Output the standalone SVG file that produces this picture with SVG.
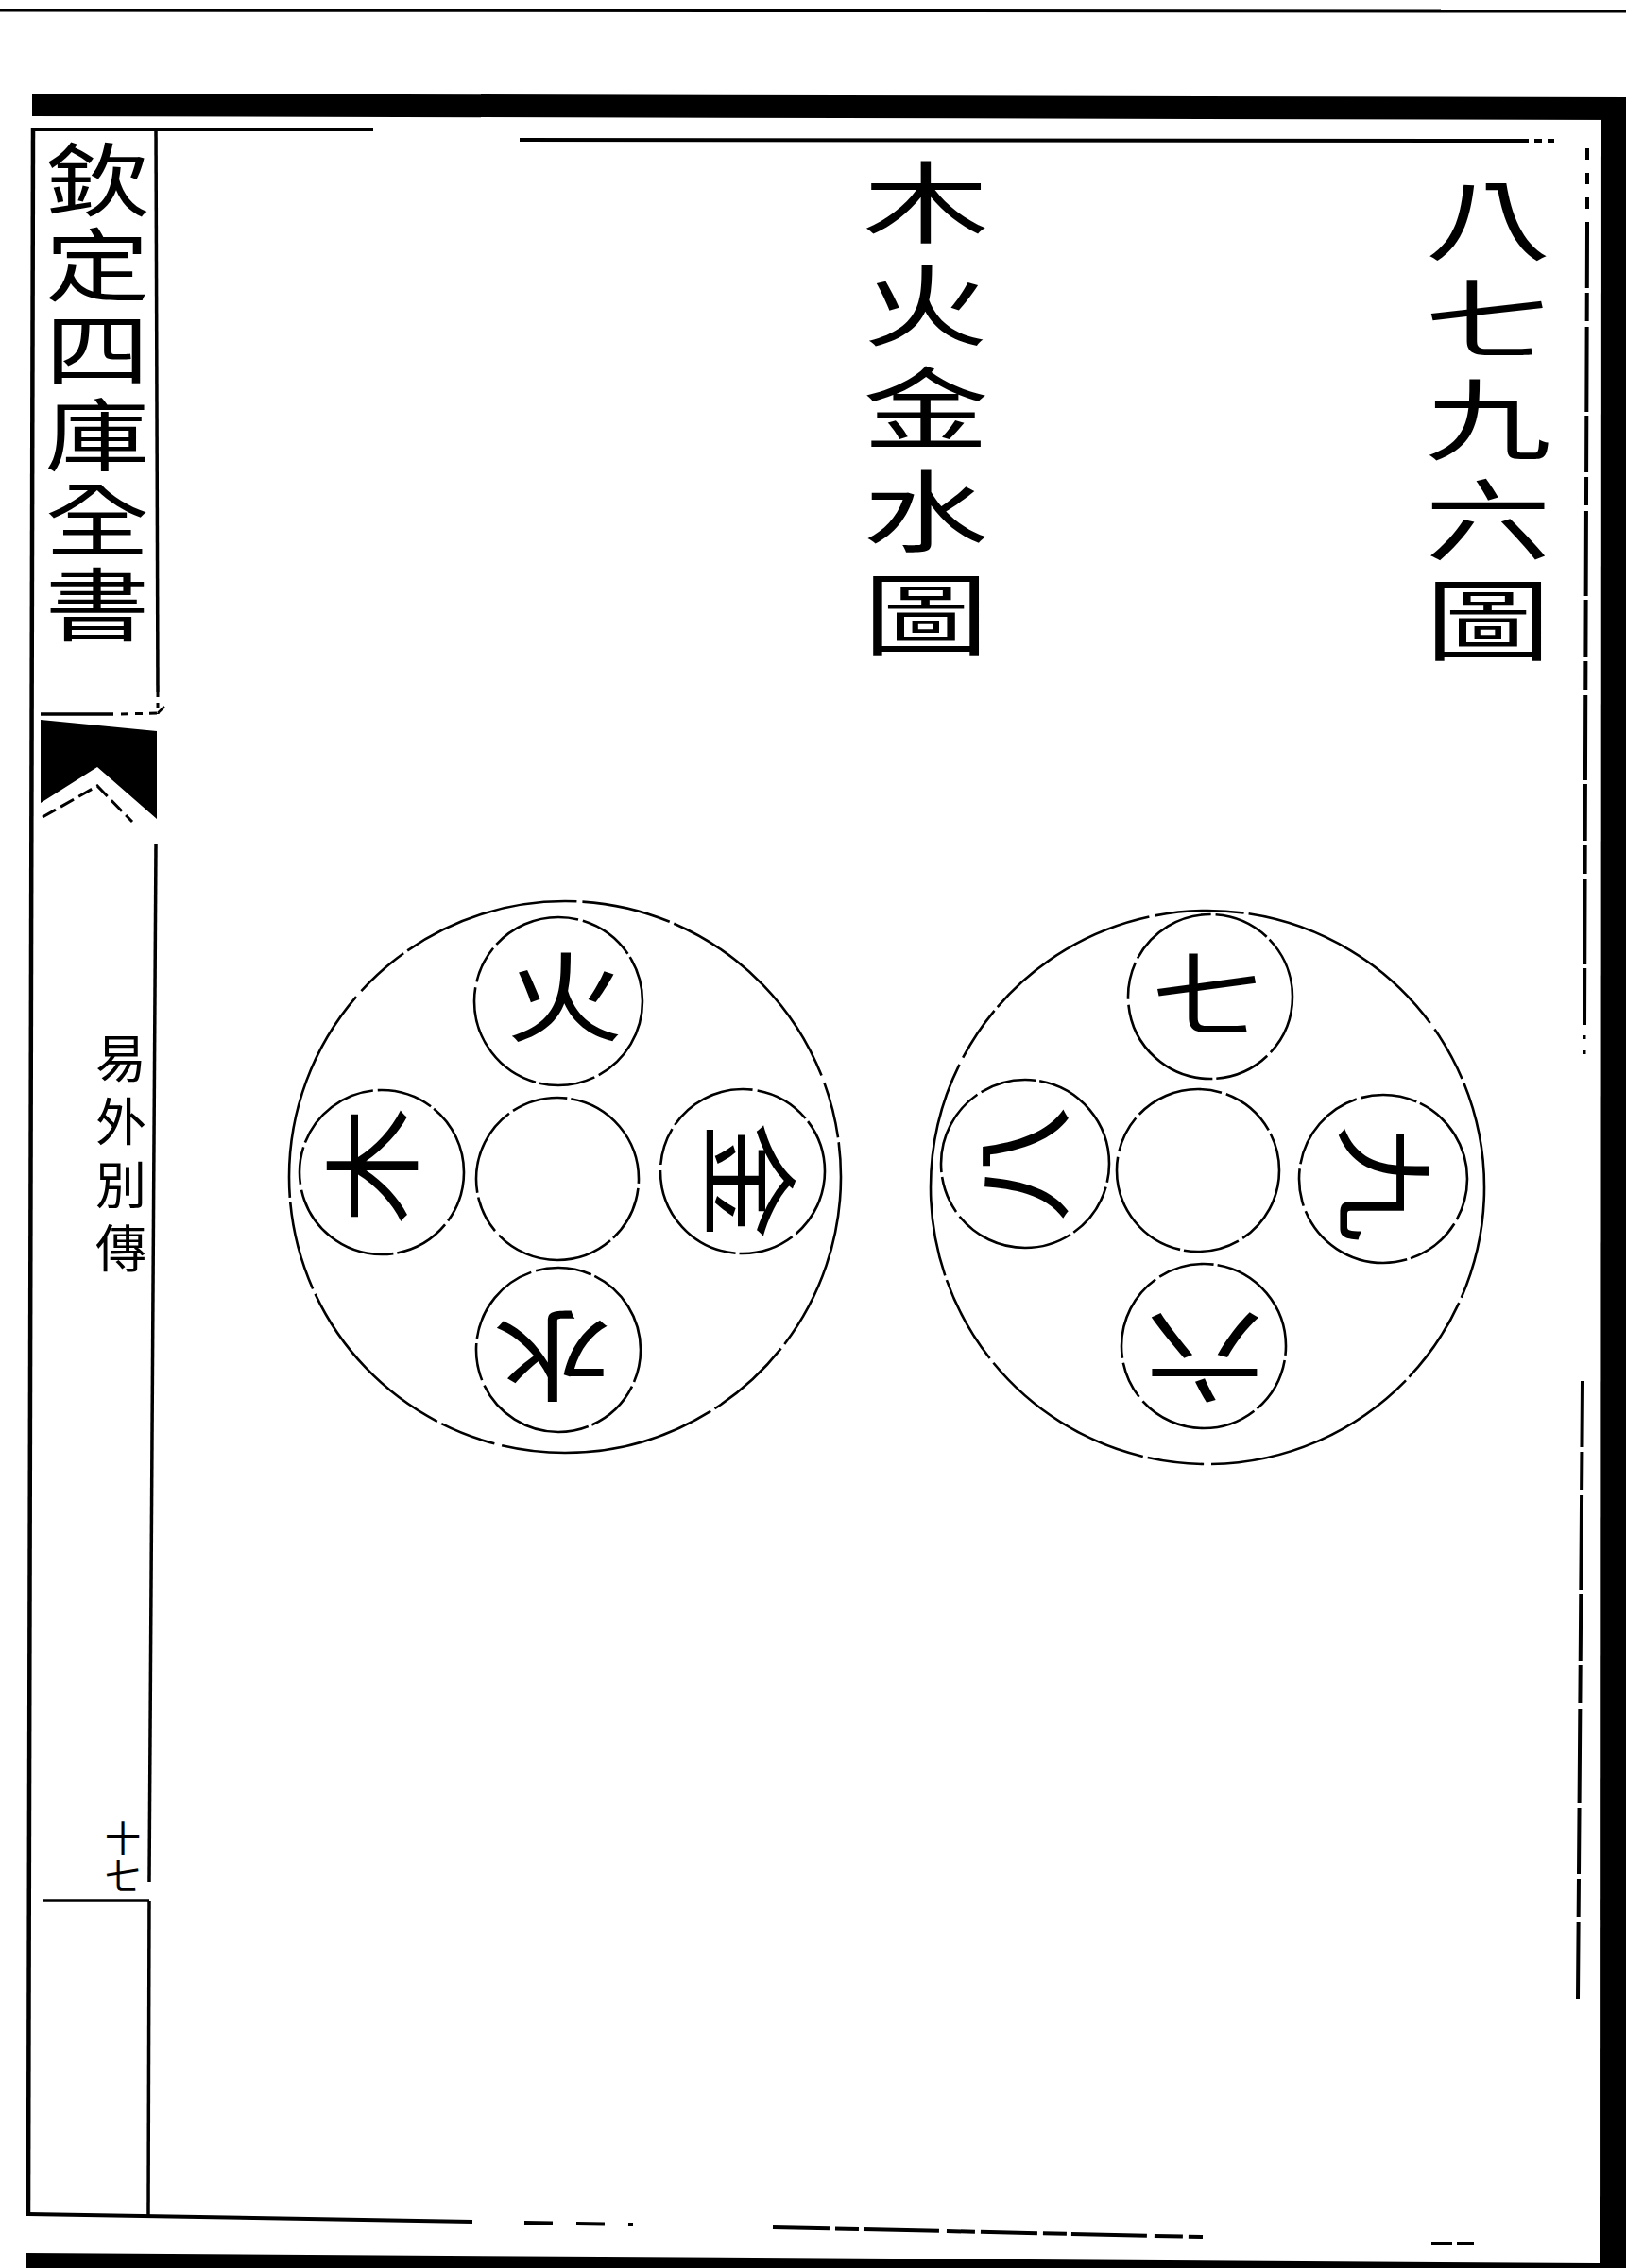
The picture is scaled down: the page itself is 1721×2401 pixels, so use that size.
<svg xmlns="http://www.w3.org/2000/svg" width="1721" height="2401" viewBox="0 0 1721 2401">
<style>
.ln{stroke:#000;fill:none;stroke-linecap:butt}
.blk{fill:#000;stroke:none}
.cbig{fill:none;stroke:#000;stroke-width:2.6;stroke-dasharray:190 6 95 5 230 8 60 5}
.csm{fill:none;stroke:#000;stroke-width:2.6;stroke-dasharray:95 5 60 4 130 6 40 5}
.t{font-family:"Noto Sans CJK TC","Noto Sans CJK SC",sans-serif;fill:#000;text-anchor:middle}
.v{font-family:"Noto Sans CJK TC","Noto Sans CJK SC",sans-serif;fill:#000;writing-mode:vertical-rl;text-anchor:start}
.ttl{font-size:94px}
.hd{font-size:84px}
.sm{font-size:54px}
.pg{font-size:38px}
.lbl{font-size:104px}
</style>
<rect width="1721" height="2401" fill="#fff"/>

<g id="page-frame">
  <line class="ln" x1="0" y1="11" x2="1721" y2="12" stroke-width="3"/>
  <polygon class="blk" points="34,99 1721,103 1721,127 34,123"/>
  <polygon class="blk" points="1695,103 1721,103 1721,2401 1694,2401"/>
  <polygon class="blk" points="27,2385 1690,2396 1721,2396 1721,2401 27,2401"/>
  <line class="ln" x1="35" y1="137" x2="395" y2="137" stroke-width="4"/>
  <line class="ln" x1="550" y1="148" x2="1618" y2="149" stroke-width="4"/>
  <line class="ln" x1="1624" y1="149" x2="1645" y2="149" stroke-width="4" stroke-dasharray="8 6"/>
  <line class="ln" x1="35" y1="135" x2="30" y2="2346" stroke-width="4.5"/>
  <line class="ln" x1="165" y1="135" x2="167" y2="733" stroke-width="3.5"/>
  <line class="ln" x1="167" y1="733" x2="167" y2="756" stroke-width="3" stroke-dasharray="5 6"/>
  <line class="ln" x1="165" y1="894" x2="158" y2="1992" stroke-width="3.5"/>
  <line class="ln" x1="45" y1="2012" x2="158" y2="2012" stroke-width="3.5"/>
  <line class="ln" x1="158" y1="2012" x2="157" y2="2345" stroke-width="3.5"/>
  <polyline class="ln" points="30,2344 500,2352" stroke-width="4"/>
  <line class="ln" x1="555" y1="2353" x2="670" y2="2355" stroke-width="4" stroke-dasharray="30 25"/>
  <line class="ln" x1="818" y1="2358" x2="1273" y2="2368" stroke-width="4" stroke-dasharray="60 6 25 5 80 8 30 6"/>
  <line class="ln" x1="1515" y1="2375" x2="1560" y2="2375" stroke-width="4" stroke-dasharray="22 5"/>
  <line class="ln" x1="1680" y1="157" x2="1680" y2="245" stroke-width="4" stroke-dasharray="12 14"/>
  <line class="ln" x1="1680" y1="245" x2="1677" y2="1089" stroke-width="4" stroke-dasharray="60 5 30 6 90 4"/>
  <line class="ln" x1="1677" y1="1096" x2="1677" y2="1122" stroke-width="3" stroke-dasharray="4 12"/>
  <line class="ln" x1="1675" y1="1462" x2="1670" y2="2116" stroke-width="4" stroke-dasharray="70 5 40 6 100 5"/>
</g>

<g id="fish-tail">
  <line class="ln" x1="43" y1="756" x2="120" y2="756" stroke-width="3.5"/>
  <line class="ln" x1="128" y1="756" x2="167" y2="755" stroke-width="3" stroke-dasharray="8 7"/>
  <line class="ln" x1="167" y1="755" x2="174" y2="748" stroke-width="2.5"/>
  <path class="blk" d="M43,762 L166,774 L166,867 L103,812 L43,850 Z"/>
  <polyline class="ln" points="45,865 103,832 140,870" stroke-width="3" stroke-dasharray="16 6"/>
</g>

<g id="book-title">
  <g transform="translate(103,0) scale(1.32,1)">
    <text class="v hd" x="0" y="148" letter-spacing="6">欽定四庫全書</text>
  </g>
</g>

<g id="book-subtitle">
  <text class="v sm" x="128" y="1093" letter-spacing="13">易外別傳</text>
</g>

<g id="page-number">
  <text class="v pg" x="130" y="1927" letter-spacing="2">十七</text>
</g>

<g id="title-bajiujiu">
  <g transform="translate(1575,0) scale(1.42,1)">
    <text class="v ttl" x="0" y="185" letter-spacing="12">八七九六圖</text>
  </g>
</g>

<g id="title-muhuo">
  <g transform="translate(980,0) scale(1.42,1)">
    <text class="v ttl" x="0" y="167" letter-spacing="15">木火金水圖</text>
  </g>
</g>

<g id="diagram-wuxing">
  <circle id="wuxing-outer" class="cbig" cx="598" cy="1246" r="292"/>
  <g id="node-huo">
    <circle class="csm" cx="591" cy="1060" r="89"/>
    <g transform="translate(598,1056) scale(1.2,1)"><text class="t lbl" x="0" y="39">火</text></g>
  </g>
  <g id="node-mu">
    <circle class="csm" cx="404" cy="1241" r="87" stroke-dashoffset="40"/>
    <g transform="translate(395,1234) rotate(-90) scale(1.2,1)"><text class="t lbl" x="0" y="39">木</text></g>
  </g>
  <g id="node-center-left">
    <circle class="csm" cx="590" cy="1248" r="86" stroke-dashoffset="90"/>
  </g>
  <g id="node-jin">
    <circle class="csm" cx="786" cy="1240" r="87" stroke-dashoffset="20"/>
    <g transform="translate(792,1250) rotate(90) scale(1.2,1)"><text class="t lbl" x="0" y="39">金</text></g>
  </g>
  <g id="node-shui">
    <circle class="csm" cx="591" cy="1429" r="87" stroke-dashoffset="60"/>
    <g transform="translate(585,1435) rotate(180) scale(1.2,1)"><text class="t lbl" x="0" y="39">水</text></g>
  </g>
</g>

<g id="diagram-numbers">
  <circle id="numbers-outer" class="cbig" cx="1278" cy="1257" r="293" stroke-dashoffset="70"/>
  <g id="node-qi">
    <circle class="csm" cx="1281" cy="1055" r="87" stroke-dashoffset="30"/>
    <g transform="translate(1278,1053) scale(1.2,1)"><text class="t lbl" x="0" y="37" style="font-size:98px">七</text></g>
  </g>
  <g id="node-ba">
    <circle class="csm" cx="1085" cy="1232" r="89" stroke-dashoffset="75"/>
    <g transform="translate(1083,1232) rotate(-90) scale(1.2,1)"><text class="t lbl" x="0" y="39">八</text></g>
  </g>
  <g id="node-center-right">
    <circle class="csm" cx="1268" cy="1239" r="86" stroke-dashoffset="10"/>
  </g>
  <g id="node-jiu">
    <circle class="csm" cx="1464" cy="1248" r="89" stroke-dashoffset="50"/>
    <g transform="translate(1464,1253) rotate(90) scale(1.2,1)"><text class="t lbl" x="0" y="39">九</text></g>
  </g>
  <g id="node-liu">
    <circle class="csm" cx="1274" cy="1425" r="87" stroke-dashoffset="85"/>
    <g transform="translate(1275,1436) rotate(180) scale(1.2,1)"><text class="t lbl" x="0" y="39">六</text></g>
  </g>
</g>

<g id="connectors"/>
</svg>
